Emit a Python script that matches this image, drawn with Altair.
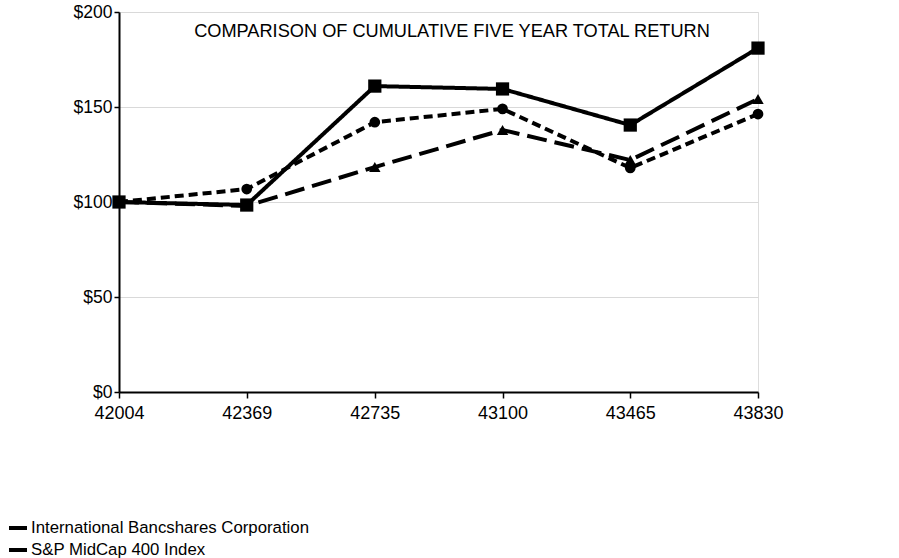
import altair as alt
import pandas as pd

periods = [42004, 42369, 42735, 43100, 43465, 43830]
series_names = ["International Bancshares Corporation", "S&P MidCap 400 Index", "S&P 400 Regional Banks Index"]
ibc = [100, 98.4, 161, 159.5, 140.5, 181]
midcap = [100, 97.9, 118.4, 137.9, 122.1, 154.2]
banks = [100, 106.8, 142, 149, 117.9, 146.3]
y_ticks = [0, 50, 100, 150, 200]
title_text = "COMPARISON OF CUMULATIVE FIVE YEAR TOTAL RETURN"
marker_shapes = ["square", "triangle-up", "circle"]
marker_sizes = [175, 130, 115]

rows = []
for name, vals in zip(series_names, [ibc, midcap, banks]):
    for p, v in zip(periods, vals):
        rows.append({"period": p, "value": v, "series": name})
df = pd.DataFrame(rows)

FONT = "Liberation Sans"

x = alt.X("period:Q", scale=alt.Scale(domain=[periods[0], periods[-1]], nice=False, zero=False),
          axis=alt.Axis(values=periods, format="d", title=None, grid=False, labelFontSize=18,
                        labelFont=FONT, labelColor="#000", domainColor="#000", domainWidth=2,
                        tickColor="#000", tickSize=6, tickWidth=1.5, labelPadding=6, labelFlush=False))
y = alt.Y("value:Q", scale=alt.Scale(domain=[0, 200], nice=False),
          axis=alt.Axis(values=y_ticks, format="$,.0f", title=None, grid=True, gridColor="#d9d9d9",
                        gridWidth=1, labelFontSize=17.5, labelFont=FONT, labelColor="#000",
                        domainColor="#000", domainWidth=2, tickColor="#000", tickSize=5,
                        tickWidth=1.5, labelPadding=2))

color = alt.Color("series:N", scale=alt.Scale(domain=series_names, range=["#000", "#000", "#000"]),
                  legend=alt.Legend(values=series_names[:2], orient="none", legendX=-112, legendY=505,
                                    title=None, symbolType="stroke", symbolStrokeWidth=4,
                                    symbolSize=324, labelFont=FONT, labelFontSize=16.8, labelLimit=0,
                                    labelColor="#000", rowPadding=2, labelOffset=2, symbolDash=[1, 0]))
dash = alt.StrokeDash("series:N", scale=alt.Scale(domain=series_names, range=[[1, 0], [20, 8], [9, 5]]),
                      legend=None)

lines = alt.Chart(df).mark_line(strokeWidth=4).encode(x=x, y=y, color=color, strokeDash=dash, detail="series:N")

point_layers = []
for name, shp, sz in zip(series_names, marker_shapes, marker_sizes):
    point_layers.append(
        alt.Chart(df).transform_filter(alt.datum.series == name)
        .mark_point(filled=True, opacity=1, color="#000", shape=shp, size=sz)
        .encode(x=x, y=y)
    )

title = alt.Chart(pd.DataFrame({"t": [title_text]})).mark_text(
    font=FONT, fontSize=18.2, color="#000", align="center", baseline="middle"
).encode(text="t:N", x=alt.value(333), y=alt.value(20))

chart = alt.layer(lines, *point_layers, title).properties(
    width=639, height=380,
    autosize=alt.AutoSizeParams(type="none"),
    padding={"left": 119, "top": 12, "right": 141, "bottom": 166},
).configure_view(stroke=None).configure(background="white")

chart.save("out.html", embed_options={"renderer": "svg", "actions": False})
